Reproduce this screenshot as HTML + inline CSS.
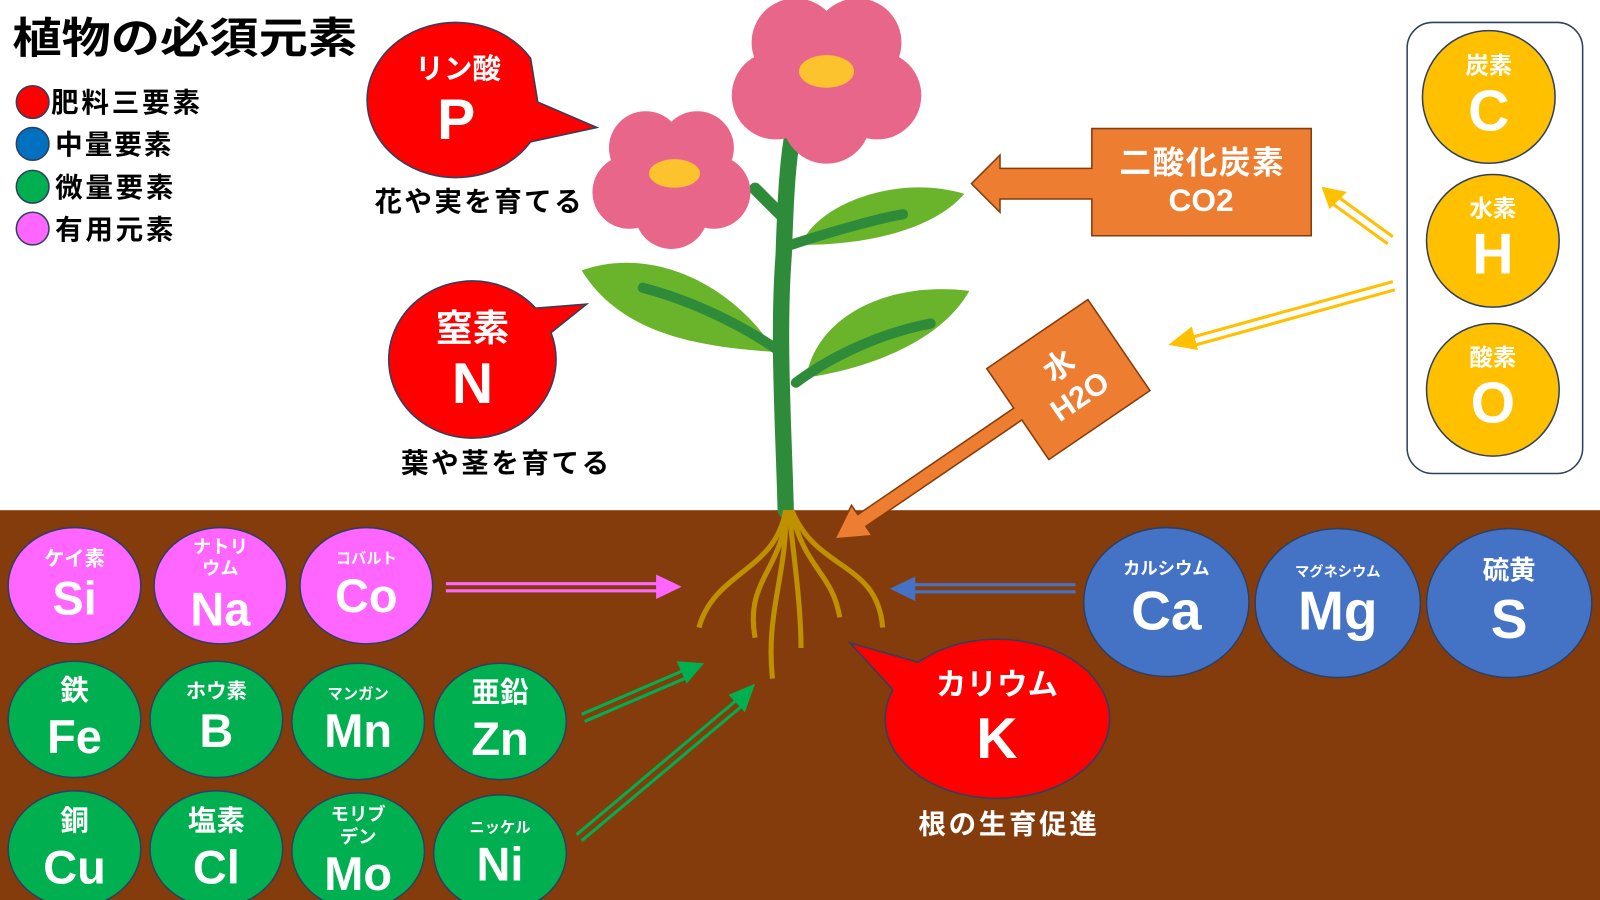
<!DOCTYPE html>
<html><head><meta charset="utf-8"><style>
html,body{margin:0;padding:0;background:#fff;}
svg{display:block;}
text{font-family:"Liberation Sans","Noto Sans CJK JP",sans-serif;font-weight:bold;}
.w{fill:#fff;text-anchor:middle;}
</style></head><body>
<svg width="1600" height="900" viewBox="0 0 1568 882" xmlns="http://www.w3.org/2000/svg">
<rect x="0" y="0" width="1568" height="882" fill="#fff"/>
<rect x="0" y="500" width="1568" height="382" fill="#843c0c"/>

<!-- title & legend -->
<text x="12" y="52" font-size="42" fill="#000" textLength="338" lengthAdjust="spacingAndGlyphs">植物の必須元素</text>
<g stroke="#2f3f5f" stroke-width="1.5">
<circle cx="32" cy="100" r="16" fill="#ff0000"/>
<circle cx="32" cy="141" r="16" fill="#0070c0"/>
<circle cx="32" cy="183" r="16" fill="#00b050"/>
<circle cx="32" cy="224" r="16" fill="#ff66ff"/>
</g>
<g font-size="27" fill="#000">
<text x="50" y="110" textLength="146">肥料三要素</text>
<text x="54" y="151" textLength="114">中量要素</text>
<text x="54" y="193" textLength="116">微量要素</text>
<text x="54" y="234" textLength="116">有用元素</text>
</g>

<!-- plant -->
<g>
<path d="M770 500 C768 420 762 330 768 250 C770 190 772 150 780 115" stroke="#2e8b3a" stroke-width="16" fill="none" stroke-linecap="round"/>
<path d="M765 210 L740 185" stroke="#2e8b3a" stroke-width="12" stroke-linecap="round"/>
<path d="M570 265 C640 240 720 280 760 345 C690 340 610 330 570 265Z" fill="#6ab42c"/>
<path d="M630 282 C680 295 730 320 765 345" stroke="#2e8b3a" stroke-width="10" fill="none" stroke-linecap="round"/>
<path d="M945 190 C880 170 800 200 785 240 C850 240 915 225 945 190Z" fill="#6ab42c"/>
<path d="M775 240 C820 225 870 212 885 210" stroke="#2e8b3a" stroke-width="10" fill="none" stroke-linecap="round"/>
<path d="M950 285 C870 275 800 310 790 370 C860 360 925 330 950 285Z" fill="#6ab42c"/>
<path d="M780 375 C820 345 870 325 912 317" stroke="#2e8b3a" stroke-width="10" fill="none" stroke-linecap="round"/>
<g fill="#e8668a">
<g transform="translate(810,74) scale(1.08)">
<circle cx="-28" cy="-30" r="40"/><circle cx="28" cy="-30" r="40"/><circle cx="46" cy="18" r="40"/><circle cx="0" cy="40" r="40"/><circle cx="-46" cy="18" r="40"/><circle r="45"/>
</g>
<g transform="translate(658,172) scale(0.9)">
<circle cx="-28" cy="-30" r="40"/><circle cx="28" cy="-30" r="40"/><circle cx="46" cy="18" r="40"/><circle cx="0" cy="40" r="40"/><circle cx="-46" cy="18" r="40"/><circle r="45"/>
</g>
</g>
<ellipse cx="810" cy="70" rx="27" ry="16" fill="#fcc32e"/>
<ellipse cx="661" cy="170" rx="25" ry="14" fill="#fcc32e"/>
<g stroke="#bf9000" stroke-width="5" fill="none">
<path d="M770 500 C760 560 700 560 685 615"/>
<path d="M772 500 C765 560 730 570 740 625"/>
<path d="M770 500 C772 560 750 600 757 665"/>
<path d="M773 500 C780 560 785 600 785 635"/>
<path d="M775 500 C790 560 815 560 823 605"/>
<path d="M776 500 C800 560 860 550 865 615"/>
</g>
</g>

<!-- bubbles -->
<g stroke="#2f3f5f" stroke-width="1.5" fill="#ff0000">
<path d="M520 57 A87 76 0 1 0 520 139 L585 125 L527 100 Z"/>
<path d="M525 302 L575 298 L540 326 A82 77 0 1 1 525 302Z"/>
<path d="M833 630 L900 649 A110 78 0 1 1 875 676 Z"/>
</g>
<text class="w" x="449" y="77" font-size="28">リン酸</text>
<text class="w" x="447" y="136" font-size="56">P</text>
<text x="367" y="207" font-size="27" fill="#000" textLength="203">花や実を育てる</text>
<text class="w" x="463" y="334" font-size="36">窒素</text>
<text class="w" x="463" y="395" font-size="56">N</text>
<text x="393" y="463" font-size="27" fill="#000" textLength="204">葉や茎を育てる</text>
<text class="w" x="977" y="681" font-size="30">カリウム</text>
<text class="w" x="977" y="743" font-size="56">K</text>
<text x="900" y="817" font-size="27" fill="#fff" textLength="175">根の生育促進</text>

<!-- CO2 arrow -->
<path d="M1070 126 H1285 V231 H1070 V195 H980 V208 L952 180 L980 152 V165 H1070 Z" fill="#ed7d31" stroke="#843c0c" stroke-width="1.5"/>
<text x="1097" y="170" font-size="31" fill="#fff" textLength="161">二酸化炭素</text>
<text class="w" x="1177" y="207" font-size="31">CO2</text>

<!-- water arrow -->
<g transform="translate(1047,372) rotate(-34.3)">
<path d="M-60 -54 H60 V54 H-60 V7 H-245 V18 L-277 0 L-245 -18 V-7 H-60 Z" fill="#ed7d31" stroke="#843c0c" stroke-width="1.5"/>
<text class="w" x="0" y="-6" font-size="30">水</text>
<text class="w" x="0" y="30" font-size="30">H2O</text>
</g>

<!-- right box -->
<rect x="1379" y="22" width="172" height="442" rx="25" fill="#fff" stroke="#2f3f5f" stroke-width="1.5"/>
<g fill="#ffc000" stroke="#2f3f5f" stroke-width="1.5">
<circle cx="1459" cy="95" r="65"/><circle cx="1463" cy="236" r="65"/><circle cx="1463" cy="382" r="65"/>
</g>
<text class="w" x="1459" y="72" font-size="23">炭素</text>
<text class="w" x="1459" y="128" font-size="56">C</text>
<text class="w" x="1463" y="212" font-size="23">水素</text>
<text class="w" x="1463" y="268" font-size="56">H</text>
<text class="w" x="1463" y="358" font-size="23">酸素</text>
<text class="w" x="1463" y="414" font-size="56">O</text>

<!-- double arrows -->
<g stroke-width="3" fill="none">
<g stroke="#ffc000">
<path d="M1365 232 L1310 192"/><path d="M1360 239 L1305 199"/>
<path d="M1365 276 L1170 330"/><path d="M1367 284 L1172 338"/>
</g>
<g stroke="#ff66ff"><path d="M437 572 H645"/><path d="M437 579 H645"/></g>
<g stroke="#4472c4"><path d="M1054 573 H895"/><path d="M1054 580 H895"/></g>
<g stroke="#00b050">
<path d="M570 700 L670 657"/><path d="M573 707 L673 664"/>
<path d="M565 818 L722 686"/><path d="M570 824 L727 692"/>
</g>
</g>
<polygon points="1295,183 1320,188 1303,205" fill="#ffc000"/>
<polygon points="1145,338 1168,320 1174,343" fill="#ffc000"/>
<polygon points="668,575 643,563 643,587" fill="#ff66ff"/>
<polygon points="872,577 897,565 897,589" fill="#4472c4"/>
<polygon points="690,650 663,648 673,670" fill="#00b050"/>
<polygon points="740,670 714,681 730,698" fill="#00b050"/>

<!-- element circles -->
<g stroke="#2f3f5f" stroke-width="1.5">
<g fill="#ff66ff">
<ellipse cx="73" cy="574" rx="65" ry="57"/><ellipse cx="216" cy="574" rx="65" ry="57"/><ellipse cx="359" cy="574" rx="65" ry="57"/>
</g>
<g fill="#00b050">
<ellipse cx="73" cy="705" rx="65" ry="57"/><ellipse cx="212" cy="705" rx="65" ry="57"/><ellipse cx="351" cy="707" rx="65" ry="57"/><ellipse cx="490" cy="707" rx="65" ry="57"/>
<ellipse cx="73" cy="832" rx="65" ry="57"/><ellipse cx="212" cy="832" rx="65" ry="57"/><ellipse cx="351" cy="834" rx="65" ry="57"/><ellipse cx="490" cy="836" rx="65" ry="57"/>
</g>
<g fill="#4472c4">
<ellipse cx="1143" cy="590" rx="81" ry="73"/><ellipse cx="1311" cy="591" rx="81" ry="73"/><ellipse cx="1479" cy="591" rx="81" ry="73"/>
</g>
</g>
<g class="w">
<text class="w" x="73" y="554" font-size="20">ケイ素</text>
<text class="w" x="73" y="602" font-size="46">Si</text>
<text class="w" x="216" y="542" font-size="18">ナトリ</text>
<text class="w" x="216" y="563" font-size="18">ウム</text>
<text class="w" x="216" y="613" font-size="46">Na</text>
<text class="w" x="359" y="552" font-size="15">コバルト</text>
<text class="w" x="359" y="600" font-size="46">Co</text>
<text class="w" x="73" y="686" font-size="28">鉄</text>
<text class="w" x="73" y="738" font-size="46">Fe</text>
<text class="w" x="212" y="684" font-size="20">ホウ素</text>
<text class="w" x="212" y="732" font-size="46">B</text>
<text class="w" x="351" y="685" font-size="15">マンガン</text>
<text class="w" x="351" y="732" font-size="46">Mn</text>
<text class="w" x="490" y="688" font-size="28">亜鉛</text>
<text class="w" x="490" y="740" font-size="46">Zn</text>
<text class="w" x="73" y="814" font-size="28">銅</text>
<text class="w" x="73" y="866" font-size="46">Cu</text>
<text class="w" x="212" y="814" font-size="28">塩素</text>
<text class="w" x="212" y="866" font-size="46">Cl</text>
<text class="w" x="351" y="804" font-size="18">モリブ</text>
<text class="w" x="351" y="826" font-size="18">デン</text>
<text class="w" x="351" y="872" font-size="46">Mo</text>
<text class="w" x="490" y="816" font-size="15">ニッケル</text>
<text class="w" x="490" y="863" font-size="46">Ni</text>
<text class="w" x="1143" y="563" font-size="17">カルシウム</text>
<text class="w" x="1143" y="617" font-size="54">Ca</text>
<text class="w" x="1311" y="565" font-size="14">マグネシウム</text>
<text class="w" x="1311" y="617" font-size="54">Mg</text>
<text class="w" x="1479" y="568" font-size="26">硫黄</text>
<text class="w" x="1479" y="625" font-size="54">S</text>
</g>
</svg>
</body></html>
